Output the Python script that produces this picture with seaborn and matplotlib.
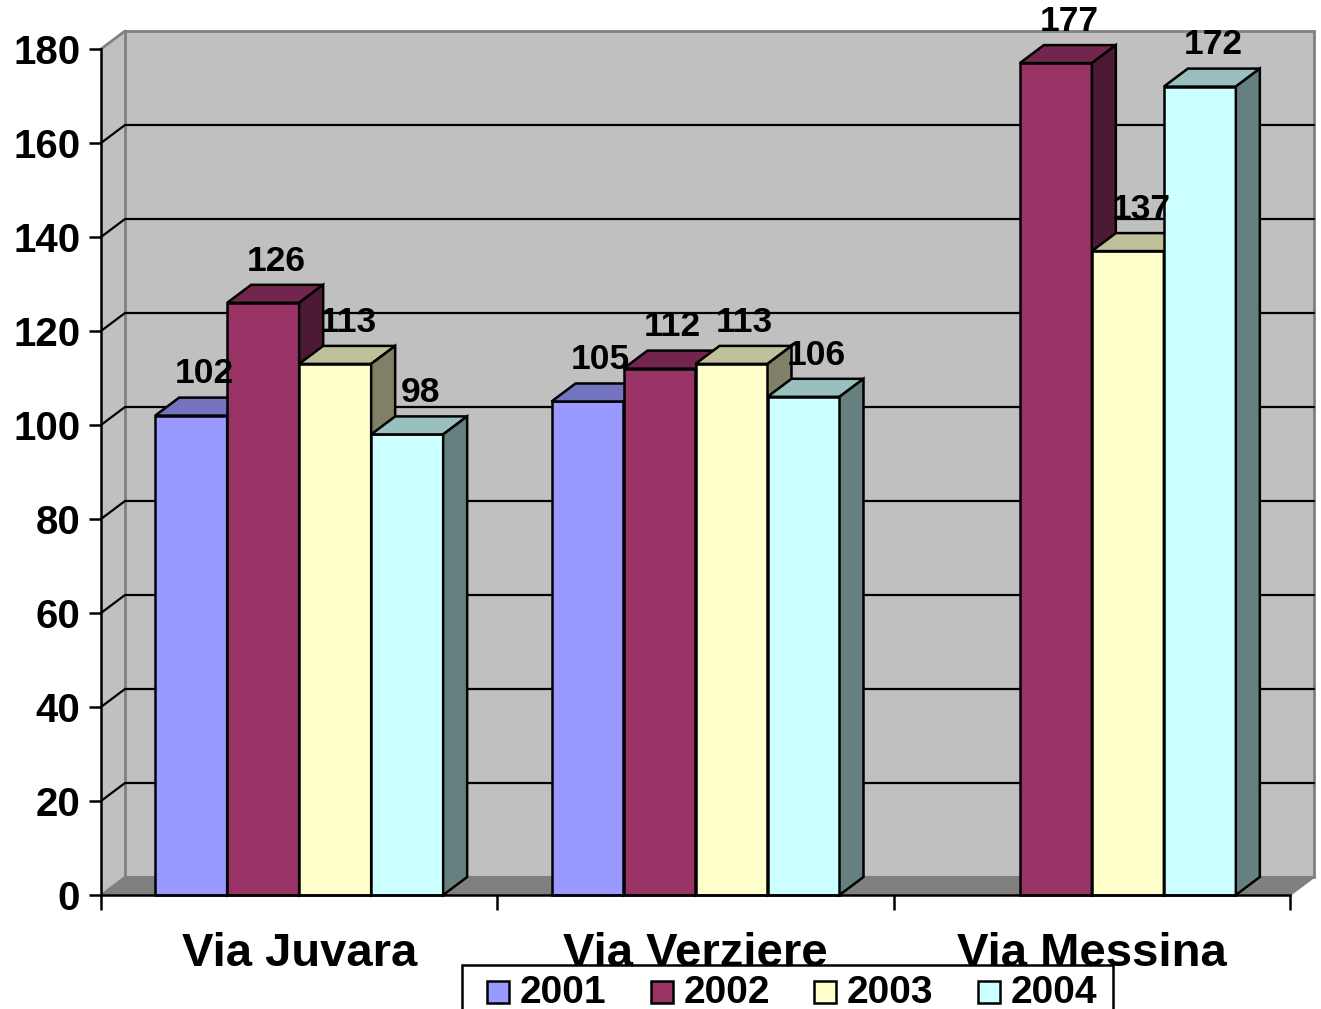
import numpy as np
import pandas as pd
import matplotlib
matplotlib.use("Agg")
import matplotlib.pyplot as plt
import matplotlib.colors as mcolors
from matplotlib.patches import Polygon, Rectangle
import seaborn as sns

# ---- data ----
locations = ["Via Juvara", "Via Verziere", "Via Messina"]
years = ["2001", "2002", "2003", "2004"]
v2001 = [102, 105, np.nan]
v2002 = [126, 112, 177]
v2003 = [113, 113, 137]
v2004 = [98, 106, 172]
series = [v2001, v2002, v2003, v2004]
colors = ["#9999FF", "#993366", "#FFFFCC", "#CCFFFF"]
y_ticks = [0, 20, 40, 60, 80, 100, 120, 140, 160, 180]

rows = []
for yr, vals in zip(years, series):
    for loc, v in zip(locations, vals):
        rows.append({"location": loc, "year": yr, "value": v})
df = pd.DataFrame(rows)

sns.set_theme(style="white")
plt.rcParams["font.family"] = ["Liberation Sans", "DejaVu Sans"]
plt.rcParams["font.weight"] = "bold"
plt.rcParams["text.color"] = "black"
plt.rcParams["xtick.labelcolor"] = "black"
plt.rcParams["ytick.labelcolor"] = "black"
plt.rcParams["xtick.color"] = "black"
plt.rcParams["ytick.color"] = "black"

W, H = 1321, 1009
fig = plt.figure(figsize=(W / 100, H / 100), dpi=100)
fig.patch.set_facecolor("white")

# plot area in pixels: x -0.5..2.5 -> 101..1290, y 0..180 -> 895..49
ax_l, ax_r, ax_t, ax_b = 101, 1290, 49, 895
ax = fig.add_axes([ax_l / W, (H - ax_b) / H, (ax_r - ax_l) / W, (ax_b - ax_t) / H])
px_x = (ax_r - ax_l) / 3.0
px_y = (ax_b - ax_t) / 180.0
DX = 24 / px_x      # depth offset (x)
DY = 18 / px_y      # depth offset (y)
LW = 1.8

sns.barplot(data=df, x="location", y="value", hue="year", order=locations,
            hue_order=years, palette=dict(zip(years, colors)), saturation=1,
            width=4 * 72 / px_x, edgecolor="black", linewidth=LW,
            errorbar=None, legend=False, ax=ax)
bars = [p for p in ax.patches if isinstance(p, Rectangle) and p.get_height() > 0]
bars.sort(key=lambda p: p.get_x())

ax.set_xlim(-0.5, 2.5)
ax.set_ylim(0, 180)
ax.patch.set_visible(False)
ax.set_xlabel("")
ax.set_ylabel("")

wall = "#C0C0C0"
edge = "#808080"
x0w, x1w = -0.5, 2.5
# side wall, back wall, floor
ax.add_patch(Polygon([(x0w, 0), (x0w + DX, DY), (x0w + DX, 180 + DY), (x0w, 180)],
                     closed=True, fc=wall, ec="none", zorder=0, clip_on=False))
ax.add_patch(Polygon([(x0w + DX, DY), (x1w + DX, DY), (x1w + DX, 180 + DY), (x0w + DX, 180 + DY)],
                     closed=True, fc=wall, ec=edge, lw=2, zorder=0.1, clip_on=False))
ax.add_patch(Polygon([(x0w, 0), (x1w, 0), (x1w + DX, DY), (x0w + DX, DY)],
                     closed=True, fc=edge, ec=edge, lw=1.5, zorder=0.2, clip_on=False))
ax.plot([x0w, x0w + DX], [180, 180 + DY], color=edge, lw=2, zorder=0.3, clip_on=False)

# gridlines on side and back walls
for v in y_ticks[1:-1]:
    ax.plot([x0w, x0w + DX, x1w + DX], [v, v + DY, v + DY], color="black",
            lw=1.6, zorder=0.5, clip_on=False, solid_joinstyle="miter")


def shade(c, f):
    r, g, b, _ = mcolors.to_rgba(c)
    return (r * f, g * f, b * f)


for k, p in enumerate(bars):
    x0, w, h = p.get_x(), p.get_width(), p.get_height()
    c = p.get_facecolor()
    z = 3 + k * 0.1
    p.set_zorder(z)
    p.set_clip_on(False)
    p.set_joinstyle("miter")
    ax.add_patch(Polygon([(x0, h), (x0 + DX, h + DY), (x0 + w + DX, h + DY), (x0 + w, h)],
                         closed=True, fc=shade(c, 0.75), ec="black", lw=LW,
                         zorder=z + 0.01, clip_on=False, joinstyle="miter"))
    ax.add_patch(Polygon([(x0 + w, 0), (x0 + w + DX, DY), (x0 + w + DX, h + DY), (x0 + w, h)],
                         closed=True, fc=shade(c, 0.5), ec="black", lw=LW,
                         zorder=z + 0.02, clip_on=False, joinstyle="miter"))
    ax.text(x0 + w / 2 + DX * 0.55, h + DY + 3.0, f"{h:.0f}", ha="center",
            va="baseline", fontsize=25.5, fontweight="bold", color="black", zorder=20)

# axes lines and ticks
for s in ["top", "right"]:
    ax.spines[s].set_visible(False)
for s in ["left", "bottom"]:
    ax.spines[s].set_color("black")
    ax.spines[s].set_linewidth(LW)
    ax.spines[s].set_zorder(6)

ax.set_yticks(y_ticks)
ax.set_yticklabels([str(t) for t in y_ticks])
ax.tick_params(axis="y", length=9, width=LW, pad=6, labelsize=29, color="black",
               labelcolor="black", left=True, direction="out")
ax.set_xticks([0, 1, 2])
ax.set_xticklabels(locations)
ax.set_xticks([-0.5, 0.5, 1.5, 2.5], minor=True)
ax.tick_params(axis="x", which="major", length=0, pad=27, labelsize=34,
               labelcolor="black")
ax.tick_params(axis="x", which="minor", length=11, width=LW, color="black",
               bottom=True, direction="out")
for t in ax.get_xticklabels() + ax.get_yticklabels():
    t.set_fontweight("bold")
    t.set_color("black")

# legend box along the bottom edge
tf = fig.transFigure


def fx(x):
    return x / W


def fy(y):
    return 1 - y / H


fig.patches.append(Rectangle((fx(462), fy(1030)), fx(1113) - fx(462), fy(965) - fy(1030),
                             transform=tf, fc="white", ec="black", lw=LW, zorder=30))
for i, (yr, c) in enumerate(zip(years, colors)):
    mx = 487 + i * 163.5
    fig.patches.append(Rectangle((fx(mx), fy(1003)), fx(22), 22 / H, transform=tf,
                                 fc=c, ec="black", lw=LW, zorder=31))
    fig.text(fx(mx + 33), fy(993), yr, ha="left", va="center", fontsize=28,
             fontweight="bold", color="black", zorder=32)

fig.savefig("out.png", dpi=100, facecolor="white")
